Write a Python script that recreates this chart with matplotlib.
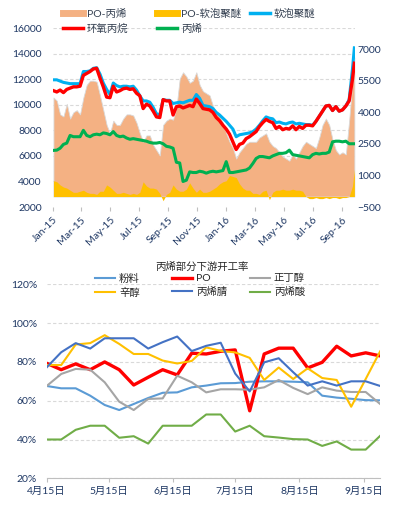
import matplotlib
matplotlib.use('Agg')
import matplotlib.pyplot as plt
import matplotlib.dates as mdates
from matplotlib.lines import Line2D
import pandas as pd

plt.rcParams['font.family'] = ['Lato', 'Noto Sans CJK SC', 'DejaVu Sans']
plt.rcParams['font.size'] = 7.5

# ---- top chart data (weekly, yuan/ton) ----
dates_top = list(pd.date_range('2015-01-02', periods=91, freq='7D')) + [pd.Timestamp('2016-09-27')]

po_propylene = [4700, 4550, 3900, 3800, 4400, 3700, 4000, 4100, 3900, 4700,
                5300, 5500, 5500, 5450, 4800, 4100, 3400, 3000, 3600, 3400,
                3400, 3700, 3900, 3900, 3850, 3500, 3000, 2600, 2900, 2900,
                2450, 2200, 1950, 3400, 3600, 3700, 3650, 4200, 5600, 5900,
                5700, 5400, 5500, 5900, 5300, 5000, 4900, 4800, 4300, 4000,
                3800, 3500, 3000, 2600, 2300, 1800, 2100, 2300, 2500, 2600,
                2600, 2600, 2800, 2900, 3000, 2600, 2400, 2300, 2100, 1900,
                1800, 1700, 2000, 1800, 2100, 2400, 2600, 2500, 2400, 2300,
                2800, 3400, 3700, 3400, 2700, 2200, 2000, 2100, 2000, 3600,
                5500, 6600]

po_polyether = [750, 700, 550, 450, 400, 300, 200, 200, 250, 300,
                200, 150, 150, 100, 250, 250, 550, 450, 300, 150,
                150, 200, 150, 100, 150, 100, 200, 700, 500, 400,
                400, 350, 150, -200, 100, 200, 550, 350, 250, 250,
                350, 650, 400, 200, 350, 200, 200, 250, 350, 450,
                600, 700, 750, 1000, 950, 900, 600, 400, 300, 300,
                150, 150, 100, 250, 300, -150, 200, 300, 300, 350,
                300, 300, 350, 300, 300, 250, 0, -100, -100, -50,
                -100, -100, -50, -100, -50, -50, -100, -50, -50, 0,
                500, 1300]

polyether = [11950, 11950, 11850, 11750, 11700, 11650, 11650, 11650, 11650, 12600,
             12600, 12650, 12850, 12900, 12400, 11700, 11200, 10800, 11700, 11500,
             11400, 11450, 11450, 11400, 11450, 11150, 10700, 10300, 10300, 10200,
             9800, 9300, 9200, 10400, 10350, 10350, 10100, 10150, 10200, 10150,
             10250, 10350, 10350, 10800, 10500, 9950, 9900, 9850, 9700, 9400,
             9200, 8950, 8700, 8400, 8100, 7500, 7650, 7700, 7750, 7800,
             7900, 8100, 8400, 8750, 9050, 8950, 8900, 8600, 8650, 8550,
             8500, 8600, 8650, 8500, 8550, 8500, 8450, 8450, 8400, 8700,
             9100, 9500, 9900, 9950, 9550, 9850, 9500, 9600, 9900, 10400,
             12800, 14450]

po = [11100, 11000, 11150, 10950, 11200, 11300, 11400, 11400, 11450, 12300,
      12450, 12600, 12800, 12850, 12100, 11400, 10600, 10550, 11450, 11000,
      11100, 11250, 11300, 11200, 11250, 10900, 10700, 9700, 10050, 9900,
      9500, 9050, 9000, 10400, 10300, 10300, 9200, 9850, 9900, 9750,
      9850, 9950, 9850, 10450, 10100, 9700, 9650, 9600, 9400, 9000,
      8750, 8400, 8100, 7700, 7100, 6500, 6900, 7000, 7350, 7500,
      7700, 7900, 8300, 8600, 8850, 8700, 8600, 8150, 8300, 8050,
      8150, 8100, 8350, 8050, 8300, 8150, 8400, 8400, 8350, 8700,
      9100, 9500, 9900, 9950, 9550, 9850, 9500, 9600, 9900, 10300,
      12000, 13250]

propylene = [6430, 6450, 6600, 6900, 7000, 7600, 7500, 7500, 7500, 8000,
             7600, 7500, 7650, 7700, 7650, 7800, 7750, 7650, 7900, 7600,
             7500, 7550, 7400, 7300, 7350, 7300, 7250, 7200, 7150, 7050,
             7000, 7000, 7050, 6950, 6750, 6700, 6600, 5500, 5450, 4000,
             4100, 4750, 4700, 4700, 4800, 4750, 4650, 4750, 4800, 4750,
             4800, 4850, 5550, 4700, 4700, 4750, 4800, 4850, 4900, 5050,
             5400, 5800, 5950, 5950, 5900, 5850, 6000, 6100, 6200, 6200,
             6250, 6450, 6100, 6050, 6000, 5950, 5900, 5850, 6100, 6200,
             6150, 6200, 6200, 6300, 7100, 7150, 7150, 7100, 7150, 6950,
             6950, 6950]

# ---- bottom chart data (operating rate, %) ----
dates_bot = pd.date_range('2016-04-15', periods=24, freq='7D')
powder = [67.6, 66.4, 66.4, 62.6, 57.8, 55.2, 58.3, 61.4, 64.1, 64.3, 66.9, 67.8,
          69.0, 69.1, 69.8, 70.0, 70.0, 69.8, 69.5, 62.6, 61.6, 61.0, 60.3, 60.2]
po_rate = [79.3, 76.0, 79.0, 76.0, 80.0, 76.0, 68.1, 72.1, 76.0, 73.3, 84.5, 84.1,
           85.5, 86.2, 54.8, 84.1, 87.1, 87.1, 76.9, 79.8, 88.1, 83.1, 84.7, 83.1]
butanol = [67.6, 73.8, 76.4, 76.0, 69.5, 59.5, 55.2, 60.9, 61.2, 72.9, 69.5, 64.3,
           65.9, 65.9, 65.7, 66.9, 70.7, 66.6, 63.4, 66.9, 65.2, 64.5, 64.5, 58.3]
octanol = [78.4, 78.4, 89.0, 89.7, 93.8, 89.3, 84.1, 84.1, 80.7, 79.2, 80.5, 87.5,
           85.7, 84.9, 82.1, 70.7, 77.1, 71.2, 76.7, 71.7, 70.7, 56.9, 71.2, 85.5]
acrylonitrile = [77.2, 85.0, 89.7, 86.9, 92.2, 92.2, 92.2, 86.9, 90.2, 93.1, 85.6, 88.3,
                 89.9, 74.0, 64.8, 79.8, 81.9, 74.7, 67.8, 70.0, 67.8, 70.0, 70.0, 67.6]
acrylic = [40.0, 40.0, 45.0, 47.1, 47.1, 40.9, 41.7, 37.9, 47.1, 47.1, 47.1, 52.9,
           52.9, 44.1, 47.1, 41.7, 41.0, 40.2, 40.0, 36.7, 39.0, 34.8, 34.8, 41.9]

bot_ticks = pd.to_datetime(['2016-04-15', '2016-05-15', '2016-06-15',
                            '2016-07-15', '2016-08-15', '2016-09-15'])
bot_tick_labels = ['4月15日', '5月15日', '6月15日', '7月15日', '8月15日', '9月15日']

tick_color = '#1F3864'
grid_color = '#D9D9D9'

fig = plt.figure(figsize=(4.03, 5.05), dpi=100)

# ================= top chart =================
ax1 = fig.add_axes([0.1315, 0.590, 0.749, 0.3545])   # areas, right axis
ax2 = ax1.twinx()                                     # lines, left axis
ax1.yaxis.tick_right()
ax2.yaxis.tick_left()

ax1.fill_between(dates_top, 0, po_propylene, color='#F4B183', edgecolor='#D9D9D9', lw=0.6, zorder=2)
ax1.fill_between(dates_top, 0, po_polyether, color='#FFC000', lw=0, zorder=3)
ax1.set_ylim(-500, 8000)
ax1.set_yticks([-500, 1000, 2500, 4000, 5500, 7000])

ax2.plot(dates_top, polyether, color='#00B0F0', lw=2.2, zorder=3)
ax2.plot(dates_top, po, color='#FF0000', lw=2.4, zorder=4)
ax2.plot(dates_top, propylene, color='#00B050', lw=2.2, zorder=5)
ax2.set_ylim(2000, 16000)
left_ticks = list(range(2000, 16001, 2000))
ax2.set_yticks(left_ticks)

# gridlines of left axis drawn behind the areas
ax1.set_yticks([-500 + (v - 2000) * 8500 / 14000 for v in left_ticks], minor=True)
ax1.grid(which='minor', axis='y', color=grid_color, ls=(0, (3, 2)), lw=0.8, zorder=0)
ax1.tick_params(axis='y', which='minor', length=0)

ax1.set_xlim(pd.Timestamp('2015-01-01'), pd.Timestamp('2016-09-28'))
ax1.xaxis.set_major_locator(mdates.MonthLocator(bymonth=[1, 3, 5, 7, 9, 11]))
ax1.xaxis.set_major_formatter(mdates.DateFormatter('%b-%y'))
for lab in ax1.get_xticklabels():
    lab.set_rotation(45)
    lab.set_ha('right')
    lab.set_rotation_mode('anchor')
ax1.tick_params(axis='x', length=3, color='#BFBFBF', labelcolor=tick_color, pad=3)
ax1.tick_params(axis='y', which='major', length=0, labelcolor=tick_color, pad=2)
ax2.tick_params(axis='y', length=0, labelcolor=tick_color, pad=8)
for a in (ax1, ax2):
    for s in a.spines.values():
        s.set_visible(False)

top_cols = [
    ([Line2D([], [], color='#F4B183', lw=5), Line2D([], [], color='#FF0000', lw=2.5)], ['PO-丙烯', '环氧丙烷'], 63),
    ([Line2D([], [], color='#FFC000', lw=5), Line2D([], [], color='#00B050', lw=2.5)], ['PO-软泡聚醚', '丙烯'], 157),
    ([Line2D([], [], color='#00B0F0', lw=2.5)], ['软泡聚醚'], 250),
]
for handles, labels, xpx in top_cols:
    fig.legend(handles, labels, loc='upper left', bbox_to_anchor=(xpx / 403, 1 - 9 / 505),
               frameon=False, borderpad=0, borderaxespad=0, handlelength=1.9,
               handletextpad=0.4, labelspacing=0.45, labelcolor='#333F50')

# ================= bottom chart =================
ax3 = fig.add_axes([0.1159, 0.0529, 0.8275, 0.384])
ax3.plot(dates_bot, powder, color='#5B9BD5', lw=1.5)
ax3.plot(dates_bot, po_rate, color='#FF0000', lw=2.4)
ax3.plot(dates_bot, butanol, color='#A5A5A5', lw=1.5)
ax3.plot(dates_bot, octanol, color='#FFC000', lw=1.5)
ax3.plot(dates_bot, acrylonitrile, color='#4472C4', lw=1.5)
ax3.plot(dates_bot, acrylic, color='#70AD47', lw=1.5)

ax3.set_xlim(dates_bot[0], dates_bot[-1])
ax3.set_ylim(20, 120)
ax3.set_yticks(range(20, 121, 20))
ax3.set_yticklabels([f'{v}%' for v in range(20, 121, 20)])
ax3.set_xticks(bot_ticks)
ax3.set_xticklabels(bot_tick_labels)
ax3.grid(axis='y', color=grid_color, ls=(0, (3, 2)), lw=0.8)
ax3.set_axisbelow(True)
for name, s in ax3.spines.items():
    s.set_visible(name == 'bottom')
ax3.spines['bottom'].set_color('#BFBFBF')
ax3.tick_params(axis='y', length=0, labelcolor=tick_color, pad=7)
ax3.tick_params(axis='x', length=3, color='#BFBFBF', labelcolor=tick_color, pad=3)

fig.text(202 / 403, 1 - 267 / 505, '丙烯部分下游开工率', ha='center', va='center', color='#262626')

bot_cols = [
    ([Line2D([], [], color='#5B9BD5', lw=1.5), Line2D([], [], color='#FFC000', lw=1.5)], ['粉料', '辛醇'], 95),
    ([Line2D([], [], color='#FF0000', lw=2.4), Line2D([], [], color='#4472C4', lw=1.5)], ['PO', '丙烯腈'], 172),
    ([Line2D([], [], color='#A5A5A5', lw=1.5), Line2D([], [], color='#70AD47', lw=1.5)], ['正丁醇', '丙烯酸'], 250),
]
for handles, labels, xpx in bot_cols:
    fig.legend(handles, labels, loc='upper left', bbox_to_anchor=(xpx / 403, 1 - 274 / 505),
               frameon=False, borderpad=0, borderaxespad=0, handlelength=1.9,
               handletextpad=0.4, labelspacing=0.35, labelcolor='#262626')

fig.savefig('out.png', dpi=100)
